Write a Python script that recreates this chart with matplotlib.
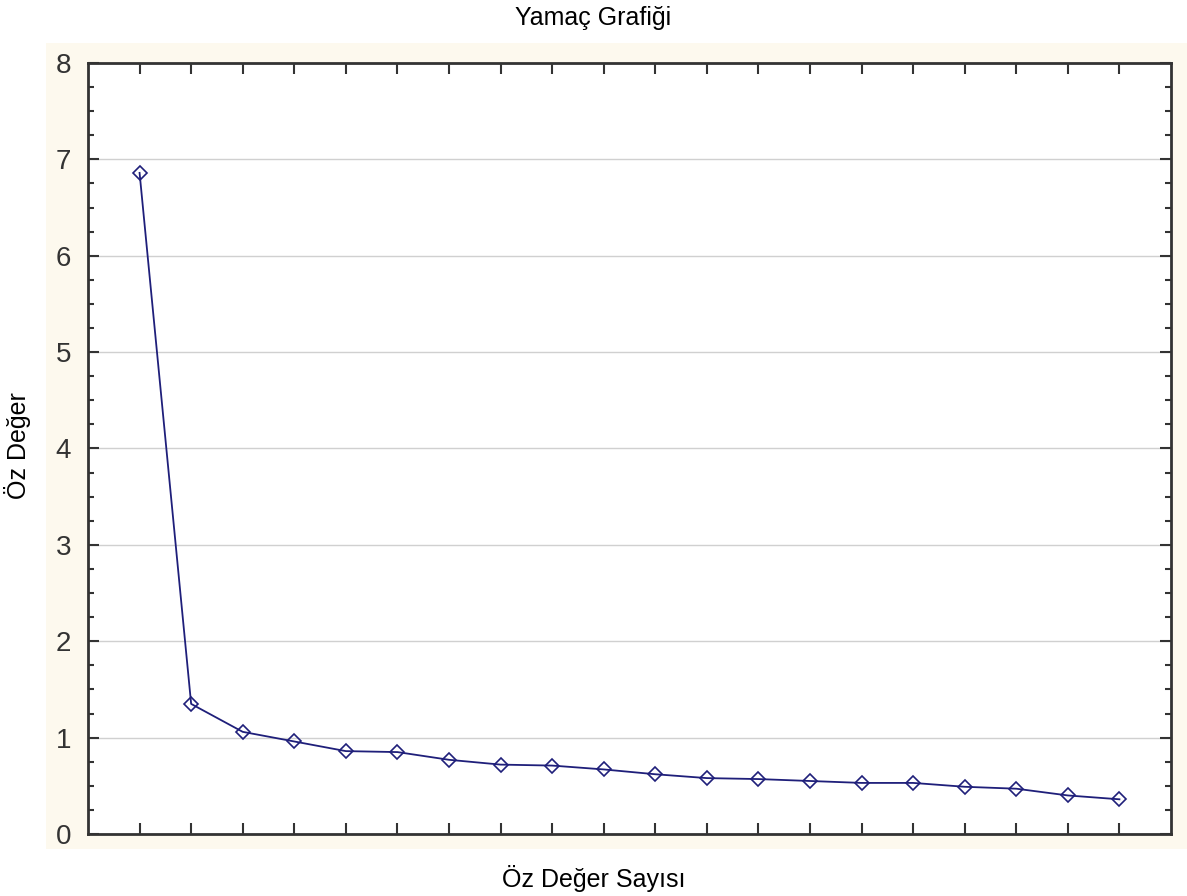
import matplotlib
matplotlib.use("Agg")
import matplotlib.pyplot as plt
from matplotlib.patches import Rectangle
from matplotlib.ticker import MultipleLocator

plt.rcParams['font.family'] = ['Liberation Sans', 'DejaVu Sans']

# eigenvalue number and eigenvalues
components = list(range(1, 21))
eigenvalues = [6.86, 1.35, 1.06, 0.96, 0.86, 0.85, 0.77, 0.72, 0.71, 0.67,
               0.62, 0.58, 0.57, 0.55, 0.53, 0.53, 0.49, 0.47, 0.40, 0.36]

fig = plt.figure(figsize=(11.87, 8.96), dpi=100)
fig.patch.set_facecolor("white")

# cream panel behind the plot
W, H = 1187, 896
fig.patches.append(Rectangle((46 / W, 1 - 849 / H), (1187 - 46) / W, (849 - 43) / H,
                             transform=fig.transFigure, facecolor="#fdf9ee",
                             edgecolor="none", zorder=-5))

ax = fig.add_axes([88 / W, 1 - 834 / H, (1171 - 88) / W, (834 - 63) / H])
ax.set_zorder(2)
ax.set_facecolor("white")

ax.plot(components, eigenvalues, color="#1f1f7a", linewidth=1.3,
        marker="D", markersize=7.5, markerfacecolor="none",
        markeredgecolor="#1f1f7a", markeredgewidth=1.2, zorder=3)

ax.set_xlim(0, 21)
ax.set_ylim(0, 8)
ax.set_xticks(components)
ax.set_xticklabels([])
ax.yaxis.set_major_locator(MultipleLocator(1))
ax.yaxis.set_minor_locator(MultipleLocator(0.25))
ax.grid(axis="y", which="major", color="#d0d0d0", linewidth=1.0)
ax.set_axisbelow(True)

ax.tick_params(axis="both", which="major", direction="in", length=8, width=1.5,
               top=True, right=True, color="#333333")
ax.tick_params(axis="y", which="minor", direction="in", length=4, width=1.5,
               right=True, color="#333333")
ax.tick_params(axis="y", labelsize=20, labelcolor="#333333", pad=12)

for s in ax.spines.values():
    s.set_linewidth(2)
    s.set_color("#333333")

fig.text(0.5, 1 - 18 / H, "Yamaç Grafiği", ha="center", va="center", fontsize=18)
fig.text(0.5, 1 - 878 / H, "Öz Değer Sayısı", ha="center", va="center", fontsize=18)
fig.text(18 / W, 1 - 446 / H, "Öz Değer", ha="center", va="center",
         rotation=90, fontsize=18)

fig.savefig("out.png", dpi=100)
